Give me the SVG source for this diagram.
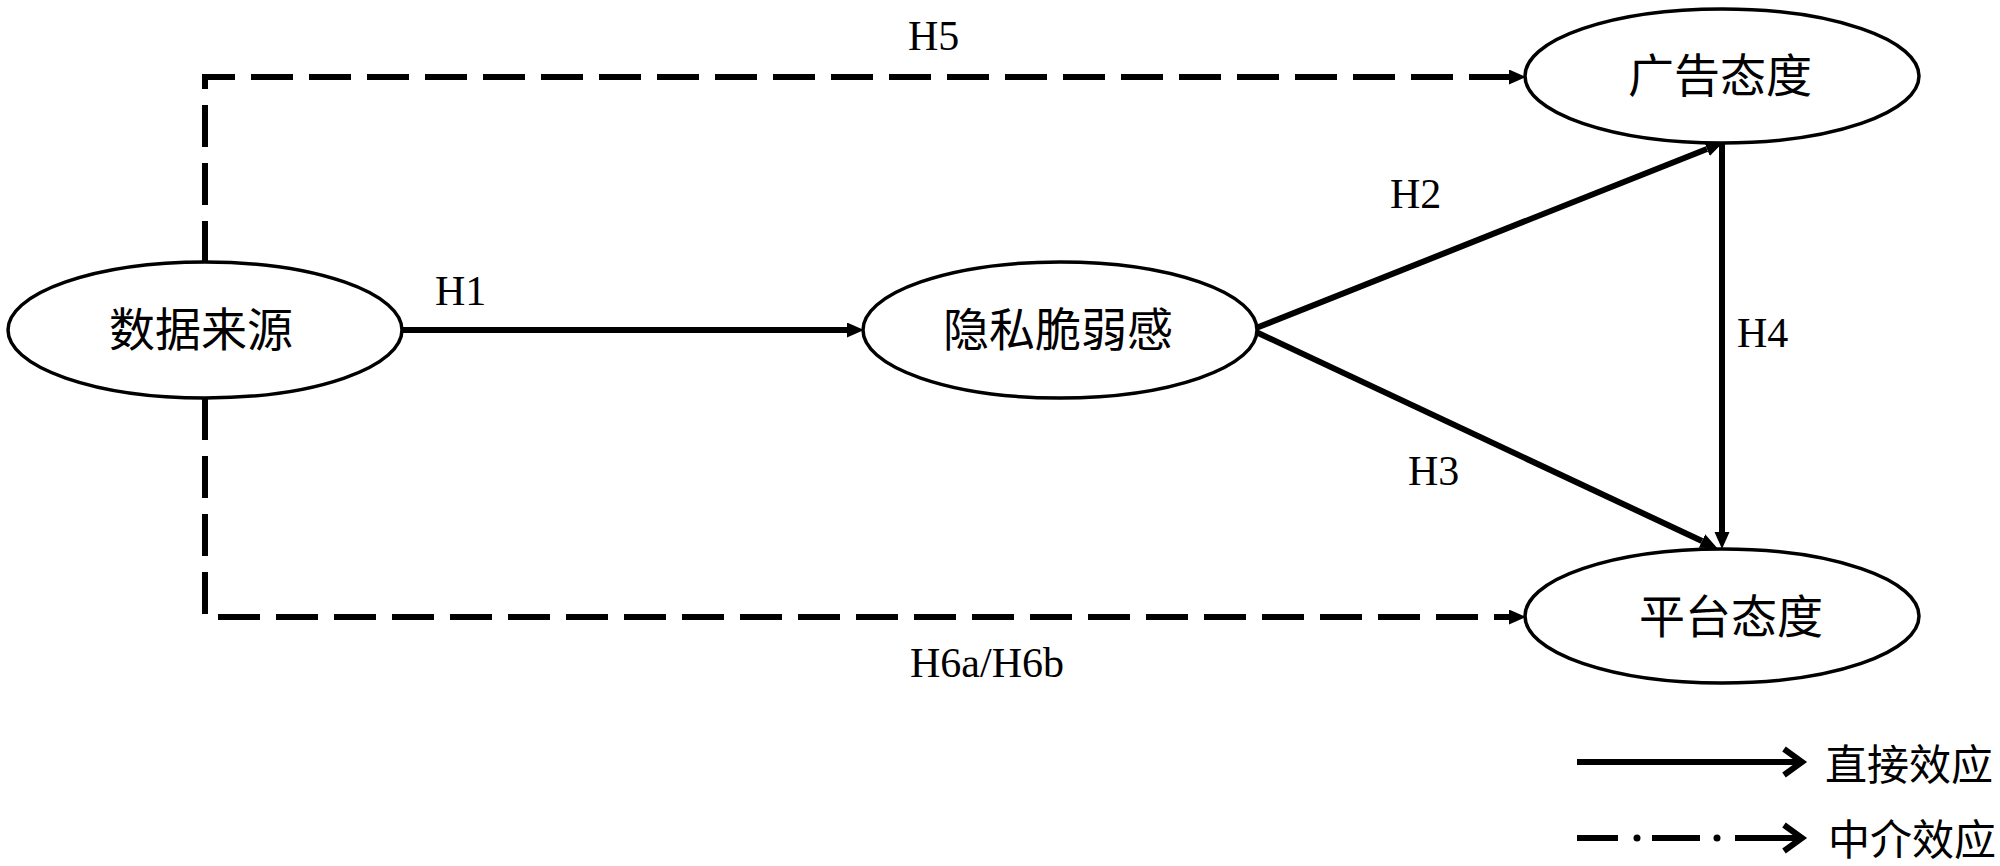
<svg xmlns="http://www.w3.org/2000/svg" width="2000" height="866" viewBox="0 0 2000 866">
<style>
.node ellipse{fill:#fff;stroke:#000;stroke-width:3.5}
.nt{font-family:"Noto Sans CJK SC","Noto Sans",sans-serif;font-size:46px;fill:#000;text-anchor:middle}
.lbl{font-family:"Liberation Serif","Times New Roman",serif;font-size:42px;fill:#000}
.solid{fill:none;stroke:#000;stroke-width:6}
.dash{fill:none;stroke:#000;stroke-width:6;stroke-dasharray:42 16}
.lg{font-family:"Noto Sans CJK SC","Noto Sans",sans-serif;font-size:42px;fill:#000}
</style>
<defs>
<marker id="ah" markerUnits="userSpaceOnUse" markerWidth="18" markerHeight="16" refX="0" refY="7.5" orient="auto">
<path d="M0,0 L17,7.5 L0,15 z" fill="#000"/>
</marker>
</defs>
<rect width="2000" height="866" fill="#fff"/>
<g id="connectors">
<path class="solid" d="M402,330 H847" marker-end="url(#ah)"/>
<path class="solid" d="M1256,328 L1707,149" marker-end="url(#ah)"/>
<path class="solid" d="M1256,332 L1702,541" marker-end="url(#ah)"/>
<path class="solid" d="M1722,143 V532" marker-end="url(#ah)"/>
<path class="dash" d="M205,263 V77 H1509" marker-end="url(#ah)"/>
<path class="dash" d="M205,398 V617 H1509" marker-end="url(#ah)"/>
<text class="lbl" x="908" y="50">H5</text>
<text class="lbl" x="435" y="305">H1</text>
<text class="lbl" x="1390" y="208">H2</text>
<text class="lbl" x="1737" y="347">H4</text>
<text class="lbl" x="1408" y="485">H3</text>
<text class="lbl" x="910" y="677">H6a/H6b</text>
</g>
<g id="node-source" class="node">
<ellipse cx="205" cy="330" rx="197" ry="68"/>
<text class="nt" x="201" y="346">数据来源</text>
</g>
<g id="node-privacy" class="node">
<ellipse cx="1060" cy="330" rx="197" ry="68"/>
<text class="nt" x="1058" y="346">隐私脆弱感</text>
</g>
<g id="node-ad" class="node">
<ellipse cx="1722" cy="76" rx="197" ry="67"/>
<text class="nt" x="1720" y="92">广告态度</text>
</g>
<g id="node-platform" class="node">
<ellipse cx="1722" cy="616" rx="197" ry="67"/>
<text class="nt" x="1731" y="633">平台态度</text>
</g>
<g id="legend">
<path class="solid" d="M1577,762 H1800"/>
<polyline points="1784,749 1802,762 1784,775" fill="none" stroke="#000" stroke-width="6"/>
<text class="lg" x="1825" y="780">直接效应</text>
<path class="solid" d="M1577,838 H1618 M1652,838 H1700 M1735,838 H1800"/>
<circle cx="1637" cy="838" r="3.5" fill="#000"/>
<circle cx="1717" cy="838" r="3.5" fill="#000"/>
<polyline points="1784,825 1802,838 1784,851" fill="none" stroke="#000" stroke-width="6"/>
<text class="lg" x="1828" y="855">中介效应</text>
</g>
</svg>
